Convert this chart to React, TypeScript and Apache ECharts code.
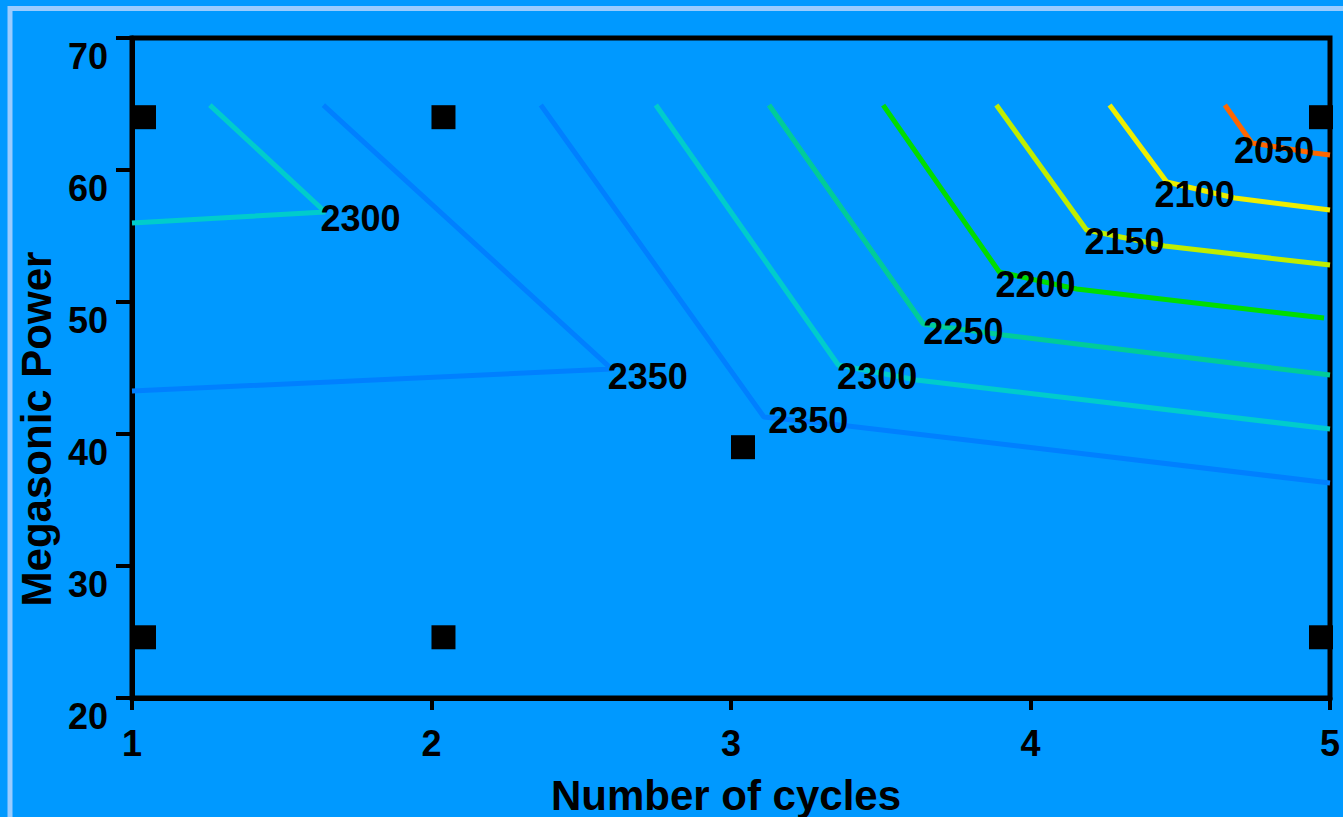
import React, { useEffect, useRef } from "react";
import * as echarts from "echarts";

// Axis ticks
const xTicks = [1, 2, 3, 4, 5];
const yTicks = [20, 30, 40, 50, 60, 70];

// Design points (black squares)
const designX = [1.04, 2.04, 3.04, 1.04, 2.04, 4.97, 4.97];
const designY = [64.0, 64.0, 39.0, 24.6, 24.6, 64.0, 24.6];

// Contour lines
const contourLevels = [2300, 2350, 2350, 2300, 2250, 2200, 2150, 2100, 2050];
const contourColors = ["#00CCCC", "#0080FF", "#0080FF", "#00CCCC", "#00CC99", "#00DD00", "#C0EE00", "#EEEE00", "#FF6600"];
const contourX = [
  [1.26, 1.645, 1.0],
  [1.639, 2.602, 1.0],
  [2.365, 3.11, 3.391, 5.0],
  [2.749, 3.358, 3.619, 5.0],
  [3.127, 3.642, 3.91, 5.0],
  [3.508, 3.896, 4.154, 4.98],
  [3.886, 4.187, 4.448, 5.0],
  [4.264, 4.455, 4.682, 5.0],
  [4.649, 4.739, 4.946, 5.0],
];
const contourY = [
  [64.92, 56.82, 55.98],
  [64.92, 44.92, 43.26],
  [64.92, 41.29, 40.61, 36.29],
  [64.92, 45.23, 44.09, 40.38],
  [64.92, 48.33, 47.5, 44.47],
  [64.92, 52.27, 50.98, 48.79],
  [64.92, 55.45, 54.24, 52.8],
  [64.92, 59.09, 57.88, 56.97],
  [64.92, 62.05, 61.29, 61.14],
];
// Contour label anchors (data coordinates)
const labelX = [1.763, 2.722, 3.258, 3.488, 3.776, 4.017, 4.314, 4.548, 4.813];
const labelY = [56.36, 44.39, 41.06, 44.32, 47.8, 51.29, 54.62, 58.11, 61.44];

const xTitle = "Number of cycles";
const yTitle = "Megasonic Power";

const FONT = "Liberation Sans";

export default function App() {
  const ref = useRef<HTMLDivElement>(null);
  useEffect(() => {
    if (!ref.current) return;
    const chart = echarts.init(ref.current, null, { renderer: "svg" });
    const lineSeries = contourLevels.map((lvl, i) => ({
      type: "line",
      name: String(lvl),
      data: contourX[i].map((x, j) => [x, contourY[i][j]]),
      showSymbol: false,
      symbol: "none",
      silent: true,
      z: 2,
      lineStyle: { width: 5, color: contourColors[i] },
    }));
    const option: any = {
      animation: false,
      backgroundColor: "#0099FF",
      grid: {
        left: 132,
        right: 13,
        top: 38,
        bottom: 119,
        show: true,
        borderColor: "#000",
        borderWidth: 5,
        backgroundColor: "transparent",
        outerBoundsMode: "none",
      },
      xAxis: {
        type: "value",
        min: xTicks[0],
        max: xTicks[xTicks.length - 1],
        interval: 1,
        splitLine: { show: false },
        axisLine: { show: true, lineStyle: { color: "#000", width: 5 } },
        axisTick: { show: true, length: 12, lineStyle: { color: "#000", width: 4 } },
        axisLabel: {
          show: true,
          showMinLabel: true,
          showMaxLabel: true,
          margin: 27,
          fontSize: 36,
          fontWeight: "bold",
          fontFamily: FONT,
          color: "#000",
        },
      },
      yAxis: {
        type: "value",
        min: yTicks[0],
        max: yTicks[yTicks.length - 1],
        interval: 10,
        splitLine: { show: false },
        axisLine: { show: true, lineStyle: { color: "#000", width: 5 } },
        axisTick: { show: true, length: 16, lineStyle: { color: "#000", width: 4 } },
        axisLabel: {
          show: true,
          showMinLabel: true,
          showMaxLabel: true,
          margin: 24,
          verticalAlign: "top",
          fontSize: 36,
          fontWeight: "bold",
          fontFamily: FONT,
          color: "#000",
        },
      },
      graphic: [
        {
          type: "rect",
          silent: true,
          z: 100,
          shape: { x: 10, y: 8.5, width: 1500, height: 1000 },
          style: { fill: "none", stroke: "#99CCFF", lineWidth: 5 },
        },
        {
          type: "text",
          x: 36,
          y: 429,
          rotation: Math.PI / 2,
          style: {
            text: yTitle,
            fontSize: 42,
            fontWeight: "bold",
            fontFamily: FONT,
            fill: "#000",
            align: "center",
            verticalAlign: "middle",
          },
        },
        {
          type: "text",
          x: 726,
          y: 795,
          style: {
            text: xTitle,
            fontSize: 42,
            fontWeight: "bold",
            fontFamily: FONT,
            fill: "#000",
            align: "center",
            verticalAlign: "middle",
          },
        },
      ],
      series: [
        ...lineSeries,
        {
          type: "scatter",
          name: "labels",
          silent: true,
          z: 4,
          symbolSize: 1,
          itemStyle: { color: "rgba(0,0,0,0)", opacity: 1 },
          data: labelX.map((x, i) => ({ value: [x, labelY[i]], name: String(contourLevels[i]) })),
          label: {
            show: true,
            position: "inside",
            formatter: (p: any) => p.name,
            fontSize: 36,
            fontWeight: "bold",
            fontFamily: FONT,
            color: "#000",
            opacity: 1,
          },
        },
        {
          type: "scatter",
          name: "design",
          silent: true,
          z: 5,
          symbol: "rect",
          symbolSize: 24,
          itemStyle: { color: "#000", opacity: 1 },
          data: designX.map((x, i) => [x, designY[i]]),
        },
      ],
    };
    chart.setOption(option);
    return () => chart.dispose();
  }, []);
  return (
    <div
      ref={ref}
      style={{ position: "absolute", left: 0, top: 0, width: 1343, height: 817 }}
    />
  );
}
